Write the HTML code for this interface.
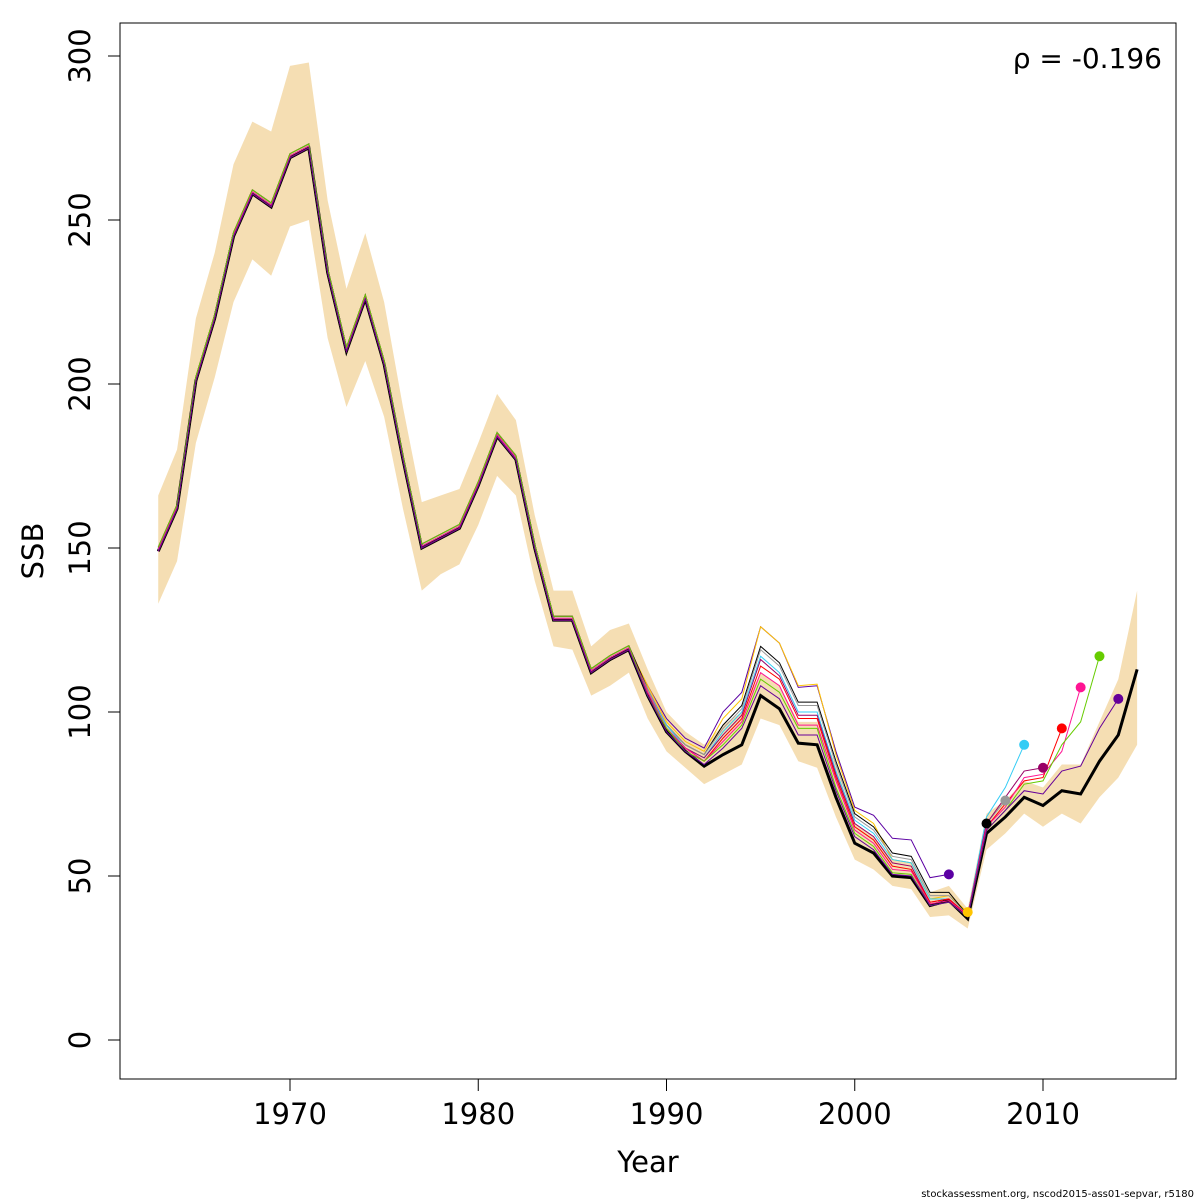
<!DOCTYPE html>
<html><head><meta charset="utf-8"><style>
body{margin:0;background:#fff;}
svg{display:block;font-family:"DejaVu Sans","Liberation Sans",sans-serif;}
</style></head><body>
<svg id="chart" width="1200" height="1200" xmlns="http://www.w3.org/2000/svg">
<g id="band-layer"></g><g id="lines-layer"></g><g id="axes-layer"></g>
<text x="1162" y="68" text-anchor="end" font-size="28">ρ = -0.196</text>
<text x="648" y="1172" text-anchor="middle" font-size="29">Year</text>
<text transform="translate(43,551) rotate(-90)" text-anchor="middle" font-size="29">SSB</text>
<text x="1194" y="1197" text-anchor="end" font-size="10">stockassessment.org, nscod2015-ass01-sepvar, r5180</text>
</svg>
<script>
const startYear = 1963;
const mainSSB = [149,162,201,220,245,258,254,269,272,234,210,226,206,177,150,153,156,169,184,177,150,128,128,112,116,119,105,94,88,83.5,87,90,105,101,90.5,90,74,60,57,50,49.5,41,42.5,37,63,68,74,71.5,76,75,85,93,113];
const bandHigh = [166,180,220,240,267,280,277,297,298,256,229,246,225,193,164,166,168,182,197,189,160,137,137,120,125,127,113,100,94,90,96,100,112,108,97,97,84,66,62,55,54,45,47,40,69,73,79,77,84,84,97,110,137];
const bandLow = [133,146,182,202,225,238,233,248,250,214,193,207,190,162,137,142,145,157,172,166,140,120,119,105,108,112,98,88,83,78,81,84,98,96,85,83,68,55,52,47,46,37.5,38,34,58,63,69,65,69,66,74,80,90];
const peelTailStart = 1989;
const peel2005 = [108,98,92,89,100,106,126,121,107.5,108,88,71,68.5,61.5,61,49.5,50.5];
const peel2006 = [108,97,91,88,98,104,126,121,108,108.5,87,70,66,55,54,43,44,39];
const peel2007 = [107,96,90,87,96,102,120,115,103,103,85,69,65,57,56,45,45,38,66];
const peel2008 = [107,96,90,87,95,101,119,114,102,102,84,68,64,56,55,44,44,38,66,73];
const peel2009 = [106,96,89,86,94,100,117,112,100,100,82,67,63,55,54,43,43,38,68,77,90];
const peel2010 = [106,95,89,86,93,99,116,111,99,99,81,66,62,54,53,42,43,38,66,74,82,83];
const peel2011 = [106,95,89,85,92,98,114,110,98,98,80,65,61,53,52,42,43,38,65,72,79,80,95];
const peel2012 = [106,95,89,85,91,97,112,108,96,96,79,64,60,52,51.5,41.5,42.5,38,65,71,80,81,88,107.5];
const peel2013 = [105,95,88,85,90,96,110,106,95,95,77,63,59,51,50.5,41,42,37.5,64,70,78,79,90,97,117];
const peel2014 = [105,94,88,84,89,95,108,104,93,93,76,62,58,50.5,50,41,42,37.5,64,70,76,75,82,83.5,95,104];
const peels = [peel2005,peel2006,peel2007,peel2008,peel2009,peel2010,peel2011,peel2012,peel2013,peel2014];
const peelColors = ['#5b00a3','#ffc400','#000000','#999999','#33ccf5','#990066','#ff0000','#ff1493','#66cc00','#660099'];
const xTicks = [1970,1980,1990,2000,2010];
const yTicks = [0,50,100,150,200,250,300];

const NS='http://www.w3.org/2000/svg';
const X = y => 290 + (y-1970)*18.825;
const Y = v => 1040 - v*3.28;
function mk(tag, attrs, parent){const e=document.createElementNS(NS,tag);for(const k in attrs)e.setAttribute(k,attrs[k]);parent.appendChild(e);return e;}
const band=document.getElementById('band-layer'), lines=document.getElementById('lines-layer'), axes=document.getElementById('axes-layer');

let d='';
bandHigh.forEach((v,i)=>{d+=(i?'L':'M')+X(startYear+i)+','+Y(v);});
for(let i=bandLow.length-1;i>=0;i--) d+='L'+X(startYear+i)+','+Y(bandLow[i]);
const bp=mk('path',{d:d+'Z',fill:'#f5deb3',stroke:'none'},band);



const mpts=mainSSB.map((v,i)=>X(startYear+i)+','+Y(v)).join(' ');
const ml=mk('polyline',{points:mpts,fill:'none',stroke:'#000','stroke-width':3},lines);



peels.forEach((p,k)=>{
  const pts=[];
  const off = (k%3 - 1) * 0.6 + 0.6;
  for(let y=startYear;y<peelTailStart;y++) pts.push([X(y),Y(mainSSB[y-startYear]+off)]);
  p.forEach((v,i)=>pts.push([X(peelTailStart+i),Y(v)]));
  const pl=mk('polyline',{points:pts.map(q=>q.join(',')).join(' '),fill:'none',stroke:peelColors[k],'stroke-width':1},lines);
  
  
});
peels.forEach((p,k)=>{
  const c=mk('circle',{cx:X(peelTailStart+p.length-1),cy:Y(p[p.length-1]),r:5,fill:peelColors[k]},lines);
  
  
});

const frame=mk('rect',{x:120,y:23,width:1056,height:1056,fill:'none',stroke:'#000','stroke-width':1},axes);


xTicks.forEach(t=>{
  mk('line',{x1:X(t),x2:X(t),y1:1079,y2:1091,stroke:'#000'},axes);
  const tx=mk('text',{x:X(t),y:1124,'text-anchor':'middle','font-size':29},axes);
  tx.textContent=t;
  
  
});
yTicks.forEach(t=>{
  mk('line',{x1:108,x2:120,y1:Y(t),y2:Y(t),stroke:'#000'},axes);
  const tx=mk('text',{transform:`translate(90,${Y(t)}) rotate(-90)`,'text-anchor':'middle','font-size':29},axes);
  tx.textContent=t;
  
  
});
</script>
</body></html>
